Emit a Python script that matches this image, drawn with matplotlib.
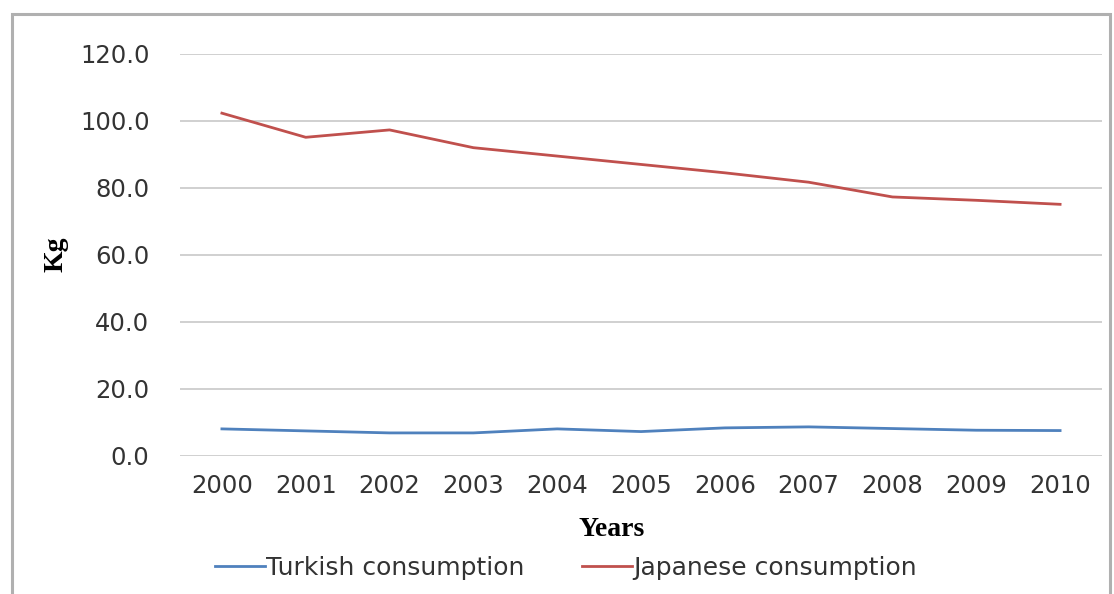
import numpy as np
import matplotlib.pyplot as plt
from matplotlib.patches import Rectangle

# Yearly consumption per capita (kg)
years = ['2000', '2001', '2002', '2003', '2004', '2005',
         '2006', '2007', '2008', '2009', '2010']
turkish = [8.0, 7.4, 6.8, 6.8, 8.0, 7.2, 8.3, 8.6, 8.1, 7.6, 7.5]
japanese = [102.2, 95.0, 97.2, 91.9, 89.4, 86.9, 84.4, 81.6, 77.2, 76.2, 75.0]
y_ticks = [0, 20, 40, 60, 80, 100, 120]

fig = plt.figure(figsize=(11.14, 5.94), dpi=100)
W, H = 1114.0, 594.0

# outer chart frame
fig.patches.append(Rectangle((12 / W, -0.05), 1098 / W, 1.05 - 14 / H,
                             transform=fig.transFigure, fill=False,
                             edgecolor='#B0B0B0', linewidth=2.2))

ax = fig.add_axes([180 / W, 1 - 455.7 / H, 922 / W, (455.7 - 53.5) / H])
x = np.arange(len(years))
ax.plot(x, turkish, color='#4F81BD', linewidth=2.0, label='Turkish consumption')
ax.plot(x, japanese, color='#C0504D', linewidth=2.0, label='Japanese consumption')

ax.set_xlim(-0.5, len(years) - 0.5)
ax.set_ylim(0, 120)
ax.set_yticks(y_ticks)
ax.set_yticklabels(['%.1f' % v for v in y_ticks])
ax.set_xticks(x)
ax.set_xticklabels(years)
ax.grid(axis='y', color='#C8C8C8', linewidth=1.2)
ax.set_axisbelow(True)
for s in ax.spines.values():
    s.set_visible(False)
ax.tick_params(axis='both', length=0, labelsize=17.5, colors='#333333')
ax.tick_params(axis='y', pad=22)
ax.tick_params(axis='x', pad=13)

ax.set_xlabel('Years', fontsize=20, fontweight='bold', family='Liberation Serif')
ax.xaxis.set_label_coords((612 - 180) / 922, -(530 - 455.7) / 402.2)
ax.xaxis.label.set_va('center')
ax.set_ylabel('Kg', fontsize=20, fontweight='bold', family='Liberation Serif')
ax.yaxis.set_label_coords(-(180 - 56) / 922, (455.7 - 254) / 402.2)
ax.yaxis.label.set_va('center')

leg = fig.legend(loc='center', bbox_to_anchor=(566 / W, 1 - 568 / H), ncol=2,
                 frameon=False, fontsize=18, handlelength=2.0, handletextpad=0.05,
                 columnspacing=2.3)
for t in leg.get_texts():
    t.set_color('#333333')

fig.savefig('out.png', dpi=100)
